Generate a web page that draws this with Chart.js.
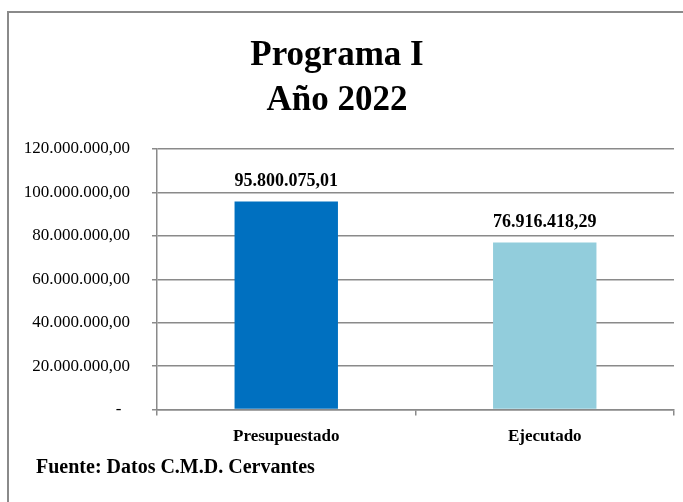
<!DOCTYPE html>
<html lang="es">
<head>
<meta charset="utf-8">
<title>Programa I - Año 2022</title>
<script src="https://cdn.jsdelivr.net/npm/chart.js@4.4.1/dist/chart.umd.min.js"></script>
<style>
  html,body{margin:0;padding:0;background:#fff;overflow:hidden;}
  #frame{position:absolute;left:7px;top:11px;width:720px;height:540px;border:2px solid #8a8a8a;box-sizing:border-box;}
  #wrap{position:absolute;left:0;top:0;width:683px;height:502px;}
</style>
</head>
<body>
<div id="frame"></div>
<div id="wrap"><canvas id="chart" width="683" height="502"></canvas></div>
<script>
/* datos */
const categorias = ['Presupuestado', 'Ejecutado'];
const valores = [95800075.01, 76916418.29];
const colores = ['#0070C0', '#92CDDC'];
const titulo = ['Programa I', 'Año 2022'];
const fuente = 'Fuente: Datos C.M.D. Cervantes';
const ejeMax = 120000000;
const ejePaso = 20000000;

const SERIF = '"Liberation Serif", "Times New Roman", serif';
const GRIS = '#8a8a8a';

// 95800075.01 -> 95.800.075,01
function fmt(v){
  const parts = v.toFixed(2).split('.');
  const ent = parts[0].replace(/\B(?=(\d{3})+(?!\d))/g, '.');
  return ent + ',' + parts[1];
}

/* etiquetas sobre las barras */
const etiquetasBarras = {
  id: 'etiquetasBarras',
  afterDatasetsDraw(chart){
    const ctx = chart.ctx;
    const meta = chart.getDatasetMeta(0);
    ctx.save();
    ctx.font = 'bold 18px ' + SERIF;
    ctx.fillStyle = '#000';
    ctx.textAlign = 'center';
    ctx.textBaseline = 'alphabetic';
    meta.data.forEach((bar, i)=>{
      ctx.fillText(fmt(valores[i]), bar.x, bar.y - 16);
    });
    ctx.restore();
  }
};

/* texto de la fuente */
const pieFuente = {
  id: 'pieFuente',
  afterDraw(chart){
    const ctx = chart.ctx;
    ctx.save();
    ctx.font = 'bold 20px ' + SERIF;
    ctx.fillStyle = '#000';
    ctx.textAlign = 'left';
    ctx.textBaseline = 'middle';
    ctx.fillText(fuente, 36, 468);
    ctx.restore();
  }
};

new Chart(document.getElementById('chart').getContext('2d'), {
  type: 'bar',
  data: {
    labels: categorias,
    datasets: [{
      data: valores,
      backgroundColor: colores,
      borderWidth: 0,
      barPercentage: 0.4,
      categoryPercentage: 1
    }]
  },
  options: {
    responsive: false,
    animation: false,
    layout: { padding: { top: 0, left: 0, right: 9, bottom: 44 } },
    plugins: {
      legend: { display: false },
      tooltip: { enabled: false },
      title: {
        display: true,
        text: titulo,
        color: '#000',
        font: { family: SERIF, size: 35, weight: 'bold', lineHeight: 1.3 },
        padding: { top: 33, bottom: 25 }
      }
    },
    scales: {
      y: {
        min: 0,
        max: ejeMax,
        afterFit(scale){ scale.width = 157; },
        ticks: {
          stepSize: ejePaso,
          color: '#000',
          padding: 22,
          font: { family: SERIF, size: 17 },
          callback: v => v === 0 ? '-  ' : fmt(v)
        },
        grid: { color: GRIS, lineWidth: 1.5, tickLength: 5 },
        border: { color: GRIS, width: 1.5 }
      },
      x: {
        ticks: {
          color: '#000',
          padding: 11,
          font: { family: SERIF, size: 17, weight: 'bold' }
        },
        grid: { drawOnChartArea: false, color: GRIS, lineWidth: 1.5, tickLength: 6, offset: true },
        border: { color: GRIS, width: 1.5 }
      }
    }
  },
  plugins: [etiquetasBarras, pieFuente]
});
</script>
</body>
</html>
